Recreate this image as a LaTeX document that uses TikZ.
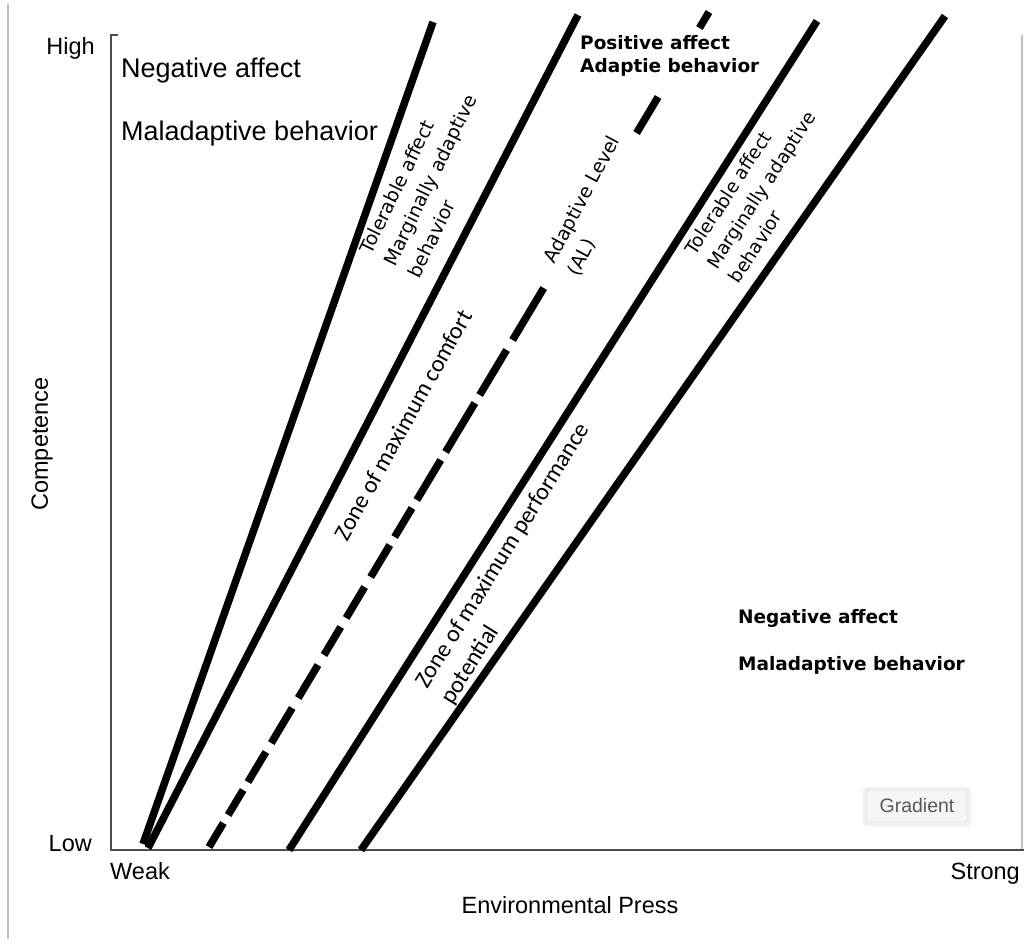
\documentclass[tikz,border=0pt]{standalone}
\usepackage{fontspec}
\setmainfont{Liberation Sans}
\newfontfamily\zonefont{Carlito}
\newfontfamily\verafont{DejaVu Sans}
\usetikzlibrary{calc}
\tikzstyle{bandline}=[line width=7.5pt, line cap=butt]
\tikzstyle{axisline}=[draw=black!70, line width=1.8pt]
\tikzstyle{frameline}=[draw=black!25, line width=1.5pt]
\tikzstyle{axislabel}=[font=\fontsize{23.5}{27}\selectfont, inner sep=0pt]
\tikzstyle{biglabel}=[font=\fontsize{27}{30}\selectfont, inner sep=0pt, anchor=base west]
\tikzstyle{boldlabel}=[font=\verafont\bfseries\fontsize{18.5}{22}\selectfont, inner sep=0pt, anchor=base west]
\tikzstyle{zonelabel}=[font=\zonefont\fontsize{24}{30}\selectfont, align=left, inner sep=0pt]
\tikzstyle{fitlabel}=[font=\verafont\fontsize{19}{27}\selectfont, align=left, inner sep=0pt]
\newcommand{\drawband}[3][]{\draw[bandline,#1] (#2) -- (#3);}
\newcommand{\dashpiece}[2]{% y of both ends of one dash on the adaptive level line
  \draw[bandline] ($(c0)!{(847-#1)/835}!(c1)$) -- ($(c0)!{(847-#2)/835}!(c1)$);
}

\begin{document}
\begin{tikzpicture}[x=1pt,y=-1pt]
\useasboundingbox (0,0) rectangle (1024,939);
% frame and axes
\coordinate (frametop) at (8,4);
\coordinate (framebot) at (8,939);
\coordinate (rimtop) at (1022,35);
\coordinate (rimbot) at (1022,850);
\draw[frameline] (frametop) -- (framebot);
\draw[frameline] (rimtop) -- (rimbot);
\coordinate (ytick) at (118,35);
\coordinate (ytop) at (111,35);
\coordinate (origin) at (111,850);
\coordinate (xend) at (1024,850);
\draw[axisline] (ytick) -- (ytop) -- (origin) -- (xend);

% zone boundaries
\coordinate (a0) at (143,844); \coordinate (a1) at (433,22);
\coordinate (b0) at (148,848); \coordinate (b1) at (578,15);
\coordinate (c0) at (209,847); \coordinate (c1) at (709,12);
\coordinate (d0) at (289,850); \coordinate (d1) at (817,21);
\coordinate (e0) at (361,850); \coordinate (e1) at (945,16);
\drawband{a0}{a1}
\drawband{b0}{b1}
\drawband{d0}{d1}
\drawband{e0}{e1}
\foreach \ya/\yb in {12/28,97/133,288/340,350/395,403/452,460/500,508/537,545/577,
  587/618,627/655,665/698,708/743,752/782,790/815,823/847}
  {\dashpiece{\ya}{\yb}}

% axis texts
\node[axislabel, anchor=base east] (high) at (95,55) {High};
\node[axislabel, anchor=base east] (low) at (92,851) {Low};
\node[axislabel, anchor=base west] (weak) at (110,879) {Weak};
\node[axislabel, anchor=base east] (strong) at (1020,879) {Strong};
\node[axislabel, anchor=base] (press) at (570,913) {Environmental Press};
\node[axislabel, rotate=90] (competence) at (42,444) {Competence};

% corner texts
\node[biglabel] (negtop) at (121,78) {Negative affect};
\node[biglabel] (maltop) at (121,140) {Maladaptive behavior};
\node[boldlabel] (pos) at (580,50) {Positive affect};
\node[boldlabel] (adap) at (580,73) {Adaptie behavior};
\node[boldlabel] (negbot) at (738,623) {Negative affect};
\node[boldlabel] (malbot) at (738,670) {Maladaptive behavior};

% rotated zone texts
\node[fitlabel, rotate=64] (tolleft) at (430,180) {Tolerable affect\\Marginally adaptive\\behavior};
\node[fitlabel, rotate=62] (allevel) at (594,206) {Adaptive Level\\(AL)};
\node[fitlabel, font=\verafont\fontsize{18.5}{26}\selectfont, rotate=57] (tolright) at (761,190) {Tolerable affect\\Marginally adaptive\\behavior};
\node[zonelabel, rotate=61] (comfort) at (403,425) {Zone of maximum comfort};
\node[zonelabel, rotate=58] (perform) at (516,564) {Zone of maximum performance\\potential};

% button
\fill[black!6, rounded corners=4pt] (863,787) rectangle (971,826);
\node[draw=black!18, fill=black!4, rounded corners=2pt, minimum width=100pt, minimum height=32pt,
  text=black!65, font=\fontsize{19.5}{21}\selectfont] (gradient) at (917,806) {Gradient};
\end{tikzpicture}
\end{document}
